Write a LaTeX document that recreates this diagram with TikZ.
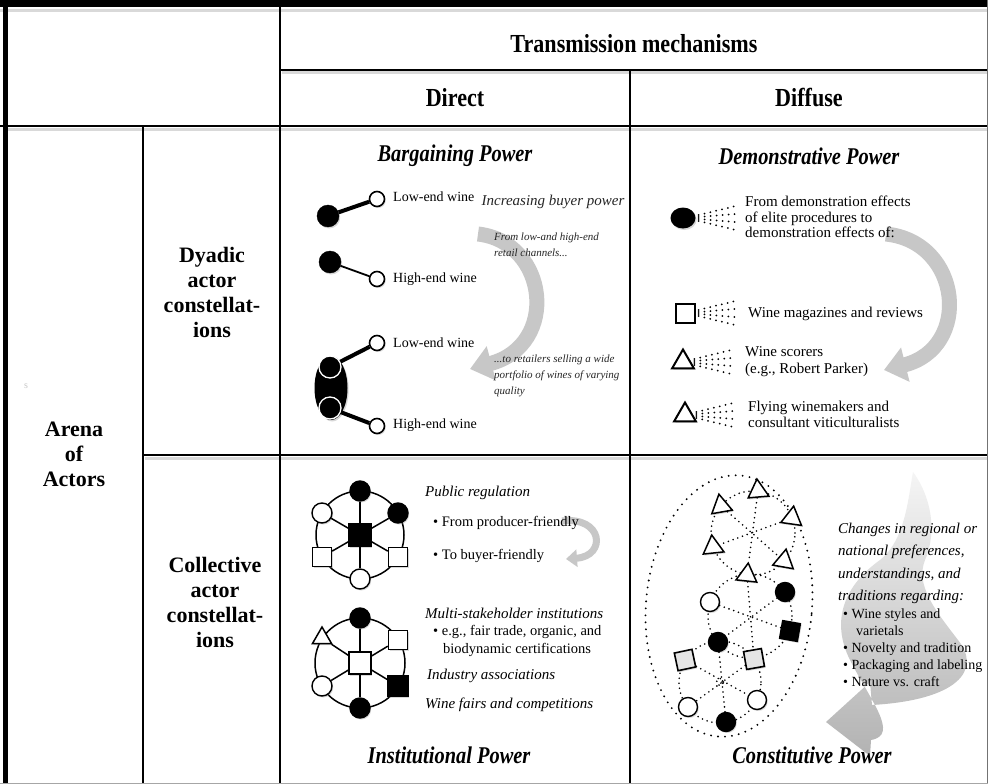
\documentclass[tikz,border=0pt]{standalone}
\usepackage{fontspec}
\setmainfont{Liberation Serif}
\usepackage{graphicx}
\usetikzlibrary{arrows.meta,shapes.geometric,shadows,calc}
\begin{document}
\begin{tikzpicture}[x=1pt,y=-1pt]
\tikzset{
 rule/.style={line width=1.7pt},
 shd/.style={line width=3pt, black!15},
 hdr/.style={font=\fontsize{26}{30}\selectfont\bfseries, inner sep=0pt},
 ttl/.style={font=\fontsize{24}{28}\selectfont\bfseries\itshape, inner sep=0pt},
 rowlbl/.style={font=\fontsize{22}{25}\selectfont\bfseries, align=center, inner sep=0pt},
 txt/.style={font=\fontsize{14}{16}\selectfont, anchor=west, inner sep=0pt, align=left},
 txtb/.style={font=\fontsize{15}{15.8}\selectfont, anchor=west, inner sep=0pt, align=left},
 itx/.style={font=\fontsize{15}{17}\selectfont\itshape, anchor=west, inner sep=0pt, align=left},
 smit/.style={font=\fontsize{11}{16}\selectfont\itshape, anchor=west, inner sep=0pt, align=left, text=black!85},
 shdw/.style={drop shadow={shadow xshift=1.2pt, shadow yshift=-1.5pt, opacity=0.3}},
 fdot/.style={circle, fill=black, draw=black, inner sep=0pt, minimum size=22pt, shdw},
 odot/.style={circle, fill=white, draw=black, line width=1.6pt, inner sep=0pt, minimum size=15pt, shdw},
 nfc/.style={circle, fill=black, draw, line width=1.4pt, inner sep=0pt, minimum size=20pt, shdw},
 noc/.style={circle, fill=white, draw, line width=1.4pt, inner sep=0pt, minimum size=20pt, shdw},
 nfs/.style={rectangle, fill=black, draw, line width=1.4pt, inner sep=0pt, minimum size=20pt, shdw},
 nos/.style={rectangle, fill=white, draw, line width=1.4pt, inner sep=0pt, minimum size=19pt, shdw},
 ngs/.style={rectangle, fill=black!10, draw, line width=1.6pt, inner sep=0pt, minimum size=18pt, shdw},
 ntri/.style={regular polygon, regular polygon sides=3, fill=white, draw, line width=1.5pt, inner sep=0pt, minimum size=24pt, shdw},
 netline/.style={line width=1.5pt},
 dotline/.style={line width=1.8pt, dash pattern=on 0pt off 5pt, line cap=round},
 bigdotline/.style={line width=2.1pt, dash pattern=on 0pt off 7pt, line cap=round},
 spray/.style={line width=2pt, dash pattern=on 0pt off 6pt, line cap=round},
 garrow/.style={black!22},
}
\useasboundingbox (0,0) rectangle (988,784);
\fill[white] (0,0) rectangle (988,784);

% ---------- table rules ----------
\draw[shd] (0,11) -- (988,11);
\draw[shd] (282,73) -- (988,73);
\draw[shd] (8,129) -- (988,129);
\draw[shd] (145,458) -- (988,458);
\draw[line width=7pt] (0,4) -- (988,4);
\draw[line width=5pt] (5,0) -- (5,784);
\draw[rule] (280,0) -- (280,784);
\draw[rule] (280,70) -- (988,70);
\draw[rule] (630,70) -- (630,784);
\draw[rule] (0,126) -- (988,126);
\draw[rule] (143,126) -- (143,784);
\draw[rule] (143,455) -- (988,455);
\draw[line width=0.8pt, black!55] (987,0) -- (987,784);
\draw[line width=0.8pt, black!35] (0,783.5) -- (988,783.5);

% ---------- headers ----------
\node[hdr] (tm) at (634,44) {\scalebox{0.85}[1]{Transmission mechanisms}};
\node[hdr] (dir) at (455,98) {\scalebox{0.85}[1]{Direct}};
\node[hdr] (dif) at (809,98) {\scalebox{0.85}[1]{Diffuse}};
\node[rowlbl] (arena) at (74,454) {Arena\\of\\Actors};
\node[rowlbl] (dyad) at (212,292) {Dyadic\\actor\\constellat-\\ions};
\node[rowlbl] (coll) at (215,602) {Collective\\actor\\constellat-\\ions};
\node[text=black!22, font=\fontsize{10}{10}\selectfont, inner sep=0pt] (art) at (26,386) {s};

% ---------- Bargaining power ----------
\node[ttl] (bp) at (455,156) {\scalebox{0.85}[1]{Bargaining Power}};
\draw[garrow, line width=15pt, -{Triangle[width=34pt,length=22pt]}] (478,234) .. controls (548,242) and (560,345) .. (470,369);
\node[fdot] (a1) at (328,216) {};
\node[odot] (b1) at (377,199) {};
\draw[line width=4pt] (a1) -- (b1);
\node[fdot] (a2) at (330,262) {};
\node[odot] (b2) at (377,279) {};
\draw[line width=1.8pt] (a2) -- (b2);
\node[ellipse, fill=black, inner sep=0pt, minimum width=33pt, minimum height=64pt, shdw] (el) at (331,388) {};
\node[circle, fill=black, draw=white, line width=1.3pt, inner sep=0pt, minimum size=22pt] (a3) at (330,367) {};
\node[circle, fill=black, draw=white, line width=1.3pt, inner sep=0pt, minimum size=22pt] (a4) at (330,408) {};
\node[odot] (b3) at (377,343) {};
\node[odot] (b4) at (377,426) {};
\draw[line width=4pt] (a3) -- (b3);
\draw[line width=4pt] (a4) -- (b4);
\node[txt] (l1) at (393,197) {Low-end wine};
\node[txt] (l2) at (393,279) {High-end wine};
\node[txt] (l3) at (393,343) {Low-end wine};
\node[txt] (l4) at (393,425) {High-end wine};
\node[font=\fontsize{15}{17}\selectfont\itshape, text=black!85, inner sep=0pt] (ibp) at (553,202) {Increasing buyer power};
\node[smit] (fr) at (494,245) {From low-and high-end\\retail channels...};
\node[smit] (tor) at (494,376) {...to retailers selling a wide\\portfolio of wines of varying\\quality};

% ---------- Demonstrative power ----------
\node[ttl] (dp) at (809,156) {\scalebox{0.85}[1]{Demonstrative Power}};
\draw[garrow, line width=15pt, -{Triangle[width=34pt,length=22pt]}] (886,234) .. controls (962,242) and (972,348) .. (884,370);
\node[ellipse, fill=black, inner sep=0pt, minimum width=25pt, minimum height=21pt, shdw] (e1) at (683,218) {};
\node[rectangle, fill=white, draw, line width=2pt, inner sep=0pt, minimum size=19pt, shdw] (e2) at (685,313) {};
\node[ntri, line width=2pt, minimum size=25pt] (e3) at (683,362) {};
\node[ntri, line width=2pt, minimum size=25pt] (e4) at (685,415) {};
\foreach \e in {e1,e2,e3,e4}{
  \foreach \dy in {-12,-4,4,12}{
    \draw[spray] ($(\e.east)+(3,0.25*\dy)$) -- ($(\e.east)+(40,\dy)$);
  }
}
\node[txtb] (d1) at (745,217) {From demonstration effects\\of elite procedures to\\demonstration effects of:};
\node[txtb] (d2) at (748,314) {Wine magazines and reviews};
\node[txtb, font=\fontsize{15}{17}\selectfont] (d3) at (745,361.5) {Wine scorers\\(e.g., Robert Parker)};
\node[txtb, font=\fontsize{15}{16}\selectfont] (d4) at (748,414) {Flying winemakers and\\consultant viticulturalists};

% ---------- Institutional power ----------
\draw[netline] (360,535) circle (44pt);
\node[nfs, minimum size=22pt] (n1c) at (360,535) {};
\node[nfc] (n1t) at (360,491) {};
\node[noc] (n1ul) at (322,513) {};
\node[nfc] (n1ur) at (398,513) {};
\node[nos] (n1ll) at (322,557) {};
\node[nos] (n1lr) at (398,557) {};
\node[noc] (n1b) at (360,579) {};
\foreach \n in {n1t,n1ul,n1ur,n1ll,n1lr,n1b}{\draw[netline] (n1c) -- (\n);}

\draw[netline] (360,663) circle (45pt);
\node[nos, minimum size=22pt] (n2c) at (360,663) {};
\node[nfc] (n2t) at (360,618) {};
\node[ntri, minimum size=22pt] (n2ul) at (322,638) {};
\node[nos] (n2ur) at (398,640) {};
\node[noc] (n2ll) at (322,686) {};
\node[nfs] (n2lr) at (398,686) {};
\node[nfc] (n2b) at (360,708) {};
\foreach \n in {n2t,n2ul,n2ur,n2ll,n2lr,n2b}{\draw[netline] (n2c) -- (\n);}

\draw[garrow, line width=7pt, -{Triangle[width=17pt,length=11pt]}] (562,521) .. controls (603,516) and (607,556) .. (566,559);
\node[itx] (pr) at (425,493) {Public regulation};
\node[txt, font=\fontsize{14.5}{16}\selectfont] (pr1) at (433,523) {\textbullet\ From producer-friendly};
\node[txt, font=\fontsize{14.5}{16}\selectfont] (pr2) at (433,556) {\textbullet\ To buyer-friendly};
\node[itx] (ms) at (425,613) {Multi-stakeholder institutions};
\node[txt, font=\fontsize{14.5}{16}\selectfont] (ms1) at (433,632) {\textbullet\ e.g., fair trade, organic, and};
\node[txt, font=\fontsize{14.5}{16}\selectfont] (ms2) at (443,650) {biodynamic certifications};
\node[itx] (ia) at (427,676) {Industry associations};
\node[itx] (wf) at (425,705) {Wine fairs and competitions};
\node[ttl] (ip) at (449,755) {\scalebox{0.85}[1]{Institutional Power}};

% ---------- Constitutive power ----------
\shade[top color=black!4, middle color=black!14, bottom color=black!30]
 (913,472) .. controls (930,495) and (938,530) .. (925,560)
 .. controls (915,585) and (935,610) .. (958,640)
 .. controls (982,670) and (958,700) .. (872,705)
 -- (870,682) -- (826,722) -- (870,756) -- (871,740)
 .. controls (900,735) and (870,700) .. (850,660)
 .. controls (830,620) and (845,585) .. (880,560)
 .. controls (905,540) and (908,500) .. (913,472) -- cycle;

\draw[bigdotline, rotate around={-5:(729,606)}] (729,606) ellipse [x radius=83pt, y radius=131pt];
\draw[dotline] (753,533) circle (42pt);
\draw[dotline] (750,616) circle (42pt);
\draw[dotline] (720,682) circle (41pt);
\draw[dotline] (720,682) circle (3.5pt);

\node[ntri, shape border rotate=-8] (t21) at (792,518) {};
\node[ntri, shape border rotate=5] (t83) at (758,491) {};
\node[ntri, shape border rotate=10] (t140) at (721,506) {};
\node[ntri, shape border rotate=6] (t200) at (713,547) {};
\node[ntri, shape border rotate=-6] (t262) at (747,575) {};
\node[ntri, shape border rotate=-10] (t318) at (784,561) {};
\node[nfc, minimum size=19pt] (m33) at (785,592) {};
\node[noc, minimum size=19pt] (m162) at (710,602) {};
\node[nfc, minimum size=19pt] (m220) at (718,642) {};
\node[ngs, rotate=10] (m276) at (754,659) {};
\node[nfs, minimum size=18pt, rotate=-10] (m338) at (790,631) {};
\node[ngs, rotate=12] (b148) at (685,660) {};
\node[noc, minimum size=19pt] (b218) at (688,707) {};
\node[nfc, minimum size=19pt] (b279) at (726,722) {};
\node[noc, minimum size=19pt] (b334) at (757,700) {};

\draw[dotline] (t21) -- (t200);
\draw[dotline] (t83) -- (t262);
\draw[dotline] (t140) -- (t318);
\draw[dotline] (m33) -- (m220);
\draw[dotline] (t262) -- (m276);
\draw[dotline] (m162) -- (m338);
\draw[dotline] (m276) -- (b218);
\draw[dotline] (m220) -- (b279);
\draw[dotline] (b148) -- (b334);

\node[itx, font=\fontsize{15}{22.3}\selectfont\itshape] (ch) at (838,563.5) {Changes in regional or\\national preferences,\\understandings, and\\traditions regarding:};
\node[txt, font=\fontsize{14}{16.9}\selectfont] (chb) at (843,648) {\textbullet\ Wine styles and\\\hspace*{13pt}varietals\\\textbullet\ Novelty and tradition\\\textbullet\ Packaging and labeling\\\textbullet\ Nature vs. craft};
\node[ttl] (cp) at (812,755) {\scalebox{0.85}[1]{Constitutive Power}};
\end{tikzpicture}
\end{document}
